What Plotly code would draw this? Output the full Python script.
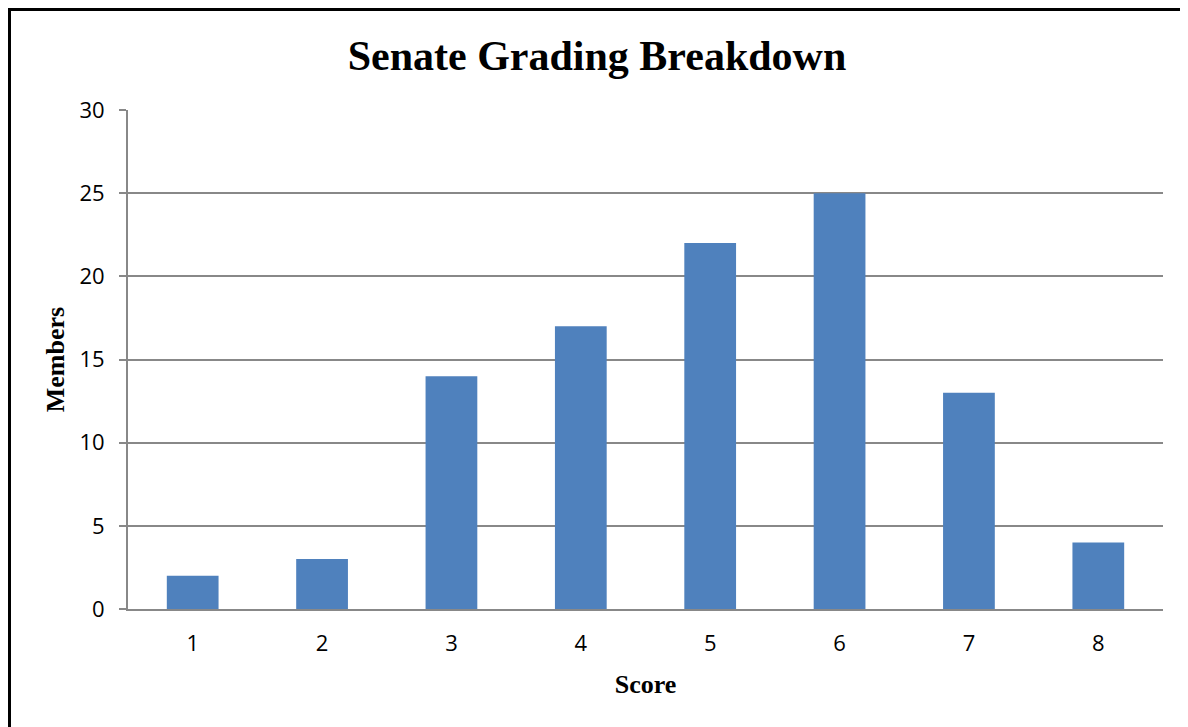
import plotly.graph_objects as go

scores = ["1", "2", "3", "4", "5", "6", "7", "8"]
members = [2, 3, 14, 17, 22, 25, 13, 4]
y_ticks = [0, 5, 10, 15, 20, 25, 30]

OFF = 8  # page body margin offset
VW, VH = 1188, 727
W, H = VW - OFF, VH - OFF
# target plot area on screen: x 128..1163, y 110..609
L, T = 128 - OFF, 110 - OFF
R = W - (1163 - OFF)
B = H - (609 - OFF)
pw, ph = W - L - R, H - T - B

fig = go.Figure(go.Bar(x=scores, y=members, marker=dict(color="#4F81BD", line=dict(width=0))))

def fx(p):  # figure pixel -> paper x
    return (p - L) / pw

def fy(p):  # figure pixel -> paper y
    return 1 - (p - T) / ph

fig.update_layout(
    width=W, height=H,
    margin=dict(l=L, r=R, t=T, b=B, autoexpand=False),
    paper_bgcolor="white", plot_bgcolor="white",
    bargap=0.6,
    showlegend=False,
    title=dict(text="<b>Senate Grading Breakdown</b>", x=(597 - OFF) / W, xanchor="center",
               y=1 - (55 - OFF) / H, yanchor="middle",
               font=dict(family="Liberation Serif", size=42, color="black")),
    xaxis=dict(type="category", showgrid=False, showline=True, linecolor="#888888", linewidth=2,
               ticks="", ticklabelstandoff=14, tickfont=dict(family="Open Sans", size=22, color="black"),
               title=dict(text="<b>Score</b>", font=dict(family="Liberation Serif", size=26, color="black"), standoff=18)),
    yaxis=dict(range=[0, 30], tickvals=y_ticks, showgrid=True, gridcolor="#888888", gridwidth=1.5,
               showline=True, linecolor="#888888", linewidth=2, ticks="outside", ticklen=7,
               tickcolor="#888888", tickwidth=1.5, zeroline=False, ticklabelstandoff=10,
               tickfont=dict(family="Open Sans", size=22, color="black"),
               title=dict(text="<b>Members</b>", font=dict(family="Liberation Serif", size=26, color="black"), standoff=7)),
    shapes=[
        dict(type="rect", xref="paper", yref="paper", x0=fx(0), x1=fx(3), y0=fy(0), y1=fy(H),
             fillcolor="black", line=dict(width=0)),
        dict(type="rect", xref="paper", yref="paper", x0=fx(0), x1=fx(W), y0=fy(0), y1=fy(3),
             fillcolor="black", line=dict(width=0)),
    ],
)

fig.write_html("out.html")
